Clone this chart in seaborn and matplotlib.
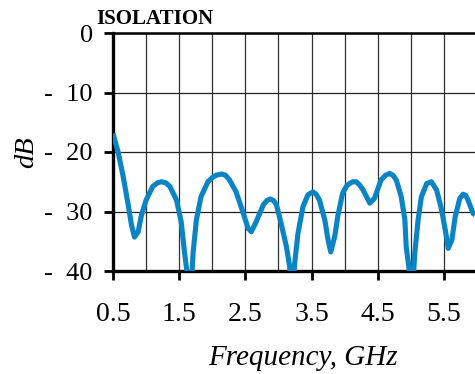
import matplotlib
matplotlib.use("Agg")
import matplotlib.pyplot as plt
import seaborn as sns
import pandas as pd
from matplotlib.ticker import FixedLocator

freq = [0.50, 0.575, 0.65, 0.73, 0.78, 0.825, 0.88, 0.93, 1.00, 1.10, 1.17, 1.23, 1.30, 1.36,
        1.46, 1.53, 1.58, 1.61, 1.665, 1.71, 1.76, 1.83, 1.935, 2.00, 2.06, 2.14, 2.20, 2.26,
        2.36, 2.46, 2.54, 2.59, 2.665, 2.77, 2.83, 2.88, 2.93, 2.97, 3.04, 3.12, 3.17, 3.20,
        3.245, 3.295, 3.37, 3.445, 3.52, 3.57, 3.62, 3.70, 3.75, 3.79, 3.85, 3.90, 3.97,
        4.03, 4.075, 4.125, 4.175, 4.23, 4.28, 4.38, 4.45, 4.55, 4.62, 4.68, 4.73, 4.78, 4.855,
        4.91, 4.93, 4.97, 5.01, 5.06, 5.11, 5.16, 5.24, 5.31, 5.39, 5.465, 5.53, 5.565, 5.62,
        5.67, 5.74, 5.79, 5.83, 5.865, 5.94, 5.97]
isolation_db = [-16.9, -19.9, -23.9, -28.9, -32.3, -34.3, -33.4, -30.6, -28.1, -25.8, -25.2, -25.0, -25.2, -25.8,
                -28.1, -31.7, -36.8, -39.5, -46.0, -37.0, -31.4, -27.5, -25.0, -24.3, -23.9, -23.7, -23.9, -24.7,
                -26.7, -30.0, -32.8, -33.4, -31.7, -28.9, -28.1, -27.9, -28.2, -28.9, -32.0, -35.9, -39.3, -46.0,
                -38.7, -33.7, -29.2, -27.2, -26.7, -27.1, -28.1, -31.4, -34.8, -36.8, -34.2, -30.6, -26.9,
                -25.7, -25.3, -25.0, -25.0, -25.6, -26.4, -28.6, -27.8, -24.7, -23.9, -23.6, -23.9, -24.7, -27.5,
                -31.4, -35.9, -39.3, -46.0, -37.0, -31.4, -27.5, -25.3, -25.0, -26.4, -29.7, -33.7, -36.2, -34.8,
                -30.9, -27.8, -27.1, -27.3, -28.1, -30.3, -30.6]
x_ticks = [0.5, 1.5, 2.5, 3.5, 4.5, 5.5]
x_tick_labels = ["0.5", "1.5", "2.5", "3.5", "4.5", "5.5"]
y_ticks = [0, -10, -20, -30, -40]
y_tick_labels = ["0", "-  10", "-  20", "-  30", "-  40"]
title_text = "ISOLATION"
x_label = "Frequency, GHz"
y_label = "dB"

sns.set_style("white")
plt.rcParams["font.family"] = ["Liberation Serif", "DejaVu Serif"]

W, H = 475, 374
fig = plt.figure(figsize=(W / 100, H / 100), dpi=100)
ax = fig.add_axes([113 / W, 1 - 271 / H, 364 / W, 238 / H])

df = pd.DataFrame({"freq": freq, "db": isolation_db})
sns.lineplot(data=df, x="freq", y="db", ax=ax, color="#0a84c4", linewidth=3.7,
             sort=False, estimator=None, solid_joinstyle="round", solid_capstyle="butt",
             zorder=3)

ax.set_xlim(0.5, 6.0)
ax.set_ylim(-40, 0)
ax.xaxis.set_major_locator(FixedLocator(x_ticks))
ax.xaxis.set_minor_locator(FixedLocator([1.0, 2.0, 3.0, 4.0, 5.0]))
ax.set_xticklabels(x_tick_labels)
ax.yaxis.set_major_locator(FixedLocator(y_ticks))
ax.set_yticklabels(y_tick_labels)

ax.grid(True, which="both", axis="x", color="#303030", linewidth=0.9)
ax.grid(True, which="major", axis="y", color="#202020", linewidth=0.9)
ax.set_axisbelow(True)

for side in ["left", "bottom"]:
    ax.spines[side].set_linewidth(2.4)
    ax.spines[side].set_color("black")
ax.spines["top"].set_linewidth(1.8)
ax.spines["top"].set_color("black")
ax.spines["right"].set_visible(False)

ax.tick_params(axis="x", which="major", direction="out", length=6.5, width=2.0,
               colors="black", labelsize=20, pad=16, bottom=True)
ax.tick_params(axis="x", which="minor", length=0)
ax.tick_params(axis="y", which="major", direction="out", length=6.5, width=2.0,
               colors="black", labelsize=19, pad=8, left=True)

ax.set_xlabel("")
ax.set_ylabel("")

fig.text(303 / W, 1 - 365 / H, x_label, ha="center", va="baseline",
         fontsize=21, fontstyle="italic", color="black")
fig.text(27 / W, 1 - 152 / H, y_label, ha="center", va="center", rotation=90,
         fontsize=20.5, fontstyle="italic", color="black")
fig.text(96 / W, 1 - 24.5 / H, title_text, ha="left", va="baseline",
         fontsize=15, fontweight="bold", color="black")

fig.savefig("out.png", dpi=100)
